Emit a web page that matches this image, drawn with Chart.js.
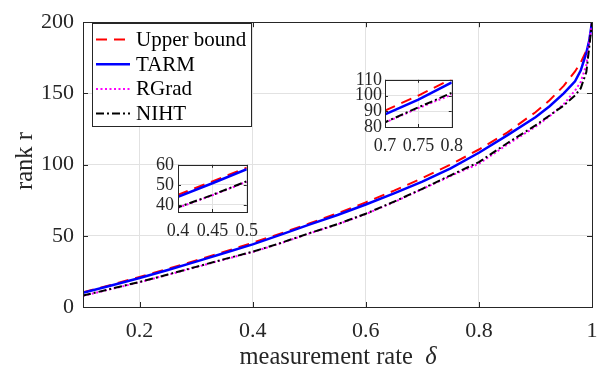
<!DOCTYPE html>
<html>
<head>
<meta charset="utf-8">
<script src="https://cdn.jsdelivr.net/npm/chart.js@4.4.1/dist/chart.umd.min.js"></script>
<style>
html, body { margin: 0; padding: 0; background: #fff; }
#wrap { position: relative; width: 609px; height: 373px; overflow: hidden; }
canvas { position: absolute; }
</style>
</head>
<body>
<div id="wrap">
  <canvas id="main" width="609" height="373" style="left:0;top:0"></canvas>
  <canvas id="zoomA" width="126" height="95" style="left:140px;top:150px"></canvas>
  <canvas id="zoomB" width="131" height="94" style="left:340px;top:66px"></canvas>
</div>
<script>
const delta      = [0.1, 0.15, 0.2, 0.25, 0.3, 0.35, 0.4, 0.45, 0.5, 0.55, 0.6, 0.65, 0.7, 0.75, 0.8, 0.85, 0.9, 0.925, 0.95, 0.97, 0.98, 0.99, 0.995, 1];
const upperBound = [10.3, 15.6, 21.1, 26.8, 32.7, 38.8, 45.1, 51.7, 58.6, 65.8, 73.5, 81.7, 90.5, 100, 110.6, 122.5, 136.8, 145.2, 155.3, 165.4, 171.7, 180, 185.9, 200];
const tarm       = [10.0, 15.1, 20.4, 26.0, 31.9, 37.9, 44.0, 50.8, 57.8, 64.6, 72.0, 79.8, 88.0, 97.4, 108.3, 120.5, 133.3, 141, 150, 158.5, 166, 178.5, 187, 200];
const rgrad      = [7.8, 12.6, 17.4, 22.6, 28.0, 33.4, 38.6, 44.8, 51.6, 58.0, 65.2, 73.6, 82.8, 92.0, 100.6, 114.0, 126.5, 134.0, 142.5, 152, 158, 170, 186, 200];
const niht       = [8.0, 12.8, 17.6, 22.8, 28.2, 33.6, 38.8, 45.0, 51.8, 58.2, 65.5, 74.0, 83.0, 92.5, 101.7, 115.0, 127.5, 134.5, 141.5, 148.5, 153.5, 165, 182, 200];

const seriesNames = ['Upper bound', 'TARM', 'RGrad', 'NIHT'];

const xTicks = [0.2, 0.4, 0.6, 0.8, 1];
const yTicks = [0, 50, 100, 150, 200];
const zoomAXTicks = [0.4, 0.45, 0.5];
const zoomAYTicks = [40, 50, 60];
const zoomBXTicks = [0.7, 0.75, 0.8];
const zoomBYTicks = [80, 90, 100, 110];

const FONT = '"Liberation Serif", "Times New Roman", serif';
const AXIS_COLOR = '#262626';
const GRID_COLOR = '#e2e2e2';

// line looks per series (same order as seriesNames)
const looks = [
  { color: '#ff0000', width: 2,   dash: [11, 7],      order: 3 },
  { color: '#0000ff', width: 2.5, dash: [],           order: 2 },
  { color: '#ff00ff', width: 2,   dash: [2, 2.5],     order: 1 },
  { color: '#000000', width: 2,   dash: [8, 3, 2, 3], order: 0 },
];

function makeDatasets(clip) {
  return [upperBound, tarm, rgrad, niht].map((vals, i) => ({
    label: seriesNames[i],
    data: delta.map((d, j) => ({ x: d, y: vals[j] })),
    borderColor: looks[i].color,
    borderWidth: looks[i].width,
    borderDash: looks[i].dash,
    order: looks[i].order,
    pointRadius: 0,
    tension: 0,
    fill: false,
    clip: clip
  }));
}

// box around the plot area, inward ticks on all four sides, optional white fill
const framePlugin = {
  id: 'frame',
  beforeDatasetsDraw(chart, args, opts) {
    if (!opts.fill) return;
    const a = chart.chartArea, ctx = chart.ctx;
    ctx.save();
    ctx.fillStyle = '#fff';
    ctx.fillRect(a.left, a.top, a.right - a.left, a.bottom - a.top);
    ctx.restore();
    // redraw grid over the fill
    chart.scales.x.drawGrid(a);
    chart.scales.y.drawGrid(a);
  },
  afterDatasetsDraw(chart, args, opts) {
    const { ctx, chartArea: a, scales: { x, y } } = chart;
    const L = opts.tick || 5;
    ctx.save();
    ctx.strokeStyle = AXIS_COLOR;
    ctx.lineWidth = 1;
    ctx.setLineDash([]);
    ctx.beginPath();
    x.ticks.forEach(t => {
      const px = Math.round(x.getPixelForValue(t.value)) + 0.5;
      ctx.moveTo(px, a.bottom); ctx.lineTo(px, a.bottom - L);
      ctx.moveTo(px, a.top); ctx.lineTo(px, a.top + L);
    });
    y.ticks.forEach(t => {
      const py = Math.round(y.getPixelForValue(t.value)) + 0.5;
      ctx.moveTo(a.left, py); ctx.lineTo(a.left + L, py);
      ctx.moveTo(a.right, py); ctx.lineTo(a.right - L, py);
    });
    ctx.stroke();
    ctx.strokeRect(Math.round(a.left) + 0.5, Math.round(a.top) + 0.5,
                   Math.round(a.right - a.left), Math.round(a.bottom - a.top));
    ctx.restore();
  }
};

// legend box in the upper left + axis titles
const decorPlugin = {
  id: 'decor',
  afterDraw(chart) {
    const ctx = chart.ctx;
    ctx.save();
    // legend
    ctx.fillStyle = '#fff';
    ctx.fillRect(92.5, 23.5, 159, 103);
    ctx.strokeStyle = AXIS_COLOR;
    ctx.lineWidth = 1;
    ctx.strokeRect(92.5, 23.5, 159, 103);
    chart.data.datasets.forEach((ds, i) => {
      const yy = 39.5 + i * 24.7;
      ctx.strokeStyle = ds.borderColor;
      ctx.lineWidth = ds.borderWidth;
      ctx.setLineDash(ds.borderDash);
      ctx.beginPath();
      ctx.moveTo(96, yy); ctx.lineTo(130, yy);
      ctx.stroke();
      ctx.setLineDash([]);
      ctx.fillStyle = '#000';
      ctx.font = '21px ' + FONT;
      ctx.textBaseline = 'middle';
      ctx.textAlign = 'left';
      ctx.fillText(ds.label, 136, yy + 1);
    });
    // y title
    ctx.fillStyle = AXIS_COLOR;
    ctx.font = '24.5px ' + FONT;
    ctx.textAlign = 'center';
    ctx.textBaseline = 'middle';
    ctx.translate(26, 161);
    ctx.rotate(-Math.PI / 2);
    ctx.fillText('rank r', 0, 0);
    ctx.restore();
    // x title with italic delta
    ctx.save();
    ctx.fillStyle = AXIS_COLOR;
    ctx.textBaseline = 'alphabetic';
    ctx.textAlign = 'left';
    const part1 = 'measurement rate  ';
    ctx.font = '24.5px ' + FONT;
    const w1 = ctx.measureText(part1).width;
    ctx.font = 'italic 24.5px ' + FONT;
    const w2 = ctx.measureText('δ').width;
    const x0 = 338 - (w1 + w2) / 2;
    ctx.font = '24.5px ' + FONT;
    ctx.fillText(part1, x0, 364);
    ctx.font = 'italic 24.5px ' + FONT;
    ctx.fillText('δ', x0 + w1, 364);
    ctx.restore();
  }
};

function axis(min, max, ticks, fontSize, pad, fit) {
  return {
    type: 'linear',
    min: min,
    max: max,
    afterBuildTicks: s => { s.ticks = ticks.map(v => ({ value: v })); },
    afterFit: fit,
    grid: { color: GRID_COLOR, lineWidth: 1, drawTicks: false },
    border: { display: false },
    ticks: {
      autoSkip: false,
      maxRotation: 0,
      padding: pad,
      color: AXIS_COLOR,
      font: { family: FONT, size: fontSize },
      callback: v => String(v)
    }
  };
}

function makeChart(id, cfg) {
  return new Chart(document.getElementById(id), {
    type: 'line',
    data: { datasets: makeDatasets(cfg.clip) },
    options: {
      responsive: false,
      animation: false,
      devicePixelRatio: 1,
      layout: { padding: cfg.padding },
      plugins: {
        legend: { display: false },
        tooltip: { enabled: false },
        frame: { tick: cfg.tick, fill: cfg.fill }
      },
      scales: {
        x: axis(cfg.x[0], cfg.x[1], cfg.xt, cfg.font, cfg.xpad, s => { s.height = cfg.xh; }),
        y: axis(cfg.y[0], cfg.y[1], cfg.yt, cfg.font, cfg.ypad, s => { s.width = cfg.yw; })
      }
    },
    plugins: cfg.decor ? [framePlugin, decorPlugin] : [framePlugin]
  });
}

makeChart('main', {
  x: [0.1, 1], y: [0, 200], xt: xTicks, yt: yTicks,
  font: 22, xpad: 11, ypad: 9,
  padding: { top: 14, right: 17, left: 0, bottom: 0 },
  xh: 373 - 307, yw: 83, tick: 5, fill: false, clip: undefined, decor: true
});

// insets: the top label overflow sets the box top about 14px below the canvas top
makeChart('zoomA', {
  x: [0.4, 0.5], y: [36.5, 60], xt: zoomAXTicks, yt: zoomAYTicks,
  font: 18, xpad: 8, ypad: 4,
  padding: { top: 12, right: 16, left: 0, bottom: 0 },
  xh: 33, yw: 38, tick: 3, fill: true, clip: 0, decor: false
});

makeChart('zoomB', {
  x: [0.7, 0.8], y: [80, 110], xt: zoomBXTicks, yt: zoomBYTicks,
  font: 18, xpad: 8, ypad: 3,
  padding: { top: 12, right: 16, left: 0, bottom: 0 },
  xh: 33, yw: 45, tick: 3, fill: true, clip: 0, decor: false
});
</script>
</body>
</html>
